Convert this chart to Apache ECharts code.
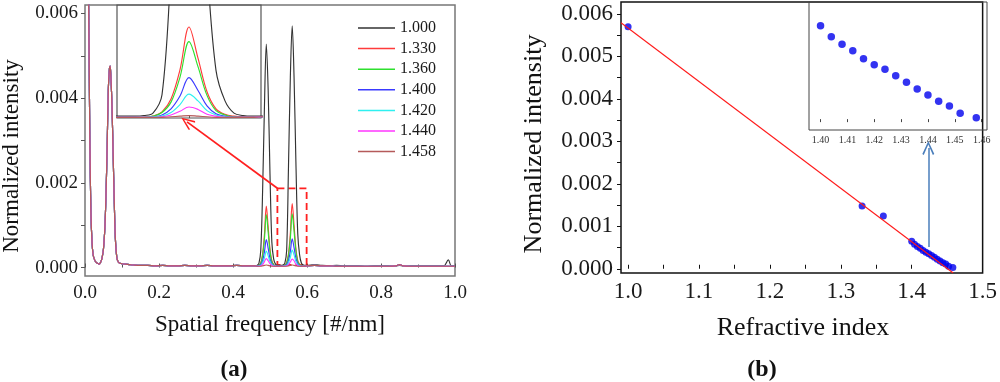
<!DOCTYPE html>
<html><head><meta charset="utf-8">
<script src="https://cdn.jsdelivr.net/npm/echarts@6/dist/echarts.min.js"></script>
<style>html,body{margin:0;padding:0;background:#fff}#c{width:1000px;height:382px}</style>
</head><body><div id="c"></div>
<script>
// ---------- Panel (a) data ----------
const seriesNames = ['1.000','1.330','1.360','1.400','1.420','1.440','1.458'];
const seriesColors = ['#333333','#ff3b3b','#2ee02e','#3a3aff','#2ef0f0','#ff36ff','#b55a5a'];

const lowFreq = [0.008,0.010,0.013,0.016,0.019,0.022,0.026,0.030,0.034,0.038,0.042,0.046,0.050,0.054,0.057,0.060,0.063,0.066,0.068,0.070,0.073,0.076,0.079,0.082,0.086,0.090,0.095,0.100,0.110,0.120,0.130,0.150,0.170,0.190,0.210,0.230,0.250,0.270,0.290,0.310,0.330,0.350,0.370,0.390,0.410,0.430,0.450,0.460];
const lowIntensity = [0.0078,0.0061,0.0031,0.0013,0.0006,0.0003,0.00018,0.00012,0.0001,0.00008,0.00012,0.00022,0.00045,0.001,0.0018,0.0029,0.0042,0.0047,0.00476,0.0045,0.0038,0.0027,0.0016,0.0007,0.00024,0.00013,0.0001,0.00009,0.00008,0.00007,0.00006,0.00005,0.00005,0.00004,0.00005,0.00004,0.00004,0.00005,0.00004,0.00004,0.00005,0.00004,0.00004,0.00004,0.00005,0.00004,0.00004,0.00004];

const peakFreq = [0.465,0.470,0.475,0.480,0.485,0.490,0.495,0.500,0.505,0.510,0.515,0.520,0.525,0.530,0.535,0.540,0.545,0.550,0.555,0.560,0.565,0.570,0.575,0.580,0.585,0.590,0.595];
const peak1000 = [0.00005,0.0001,0.0004,0.0018,0.0038,0.00528,0.0042,0.0022,0.0006,0.0002,0.00008,0.00005,0.00005,0.00005,0.00006,0.0001,0.0004,0.0024,0.0045,0.00571,0.0045,0.0025,0.0008,0.0003,0.0001,0.00006,0.00005];
const peak1330 = [0.00003,0.00005,0.00011,0.00032,0.00078,0.00145,0.00096,0.00043,0.00016,0.00007,0.00003,0.00003,0.00003,0.00003,0.00003,0.00005,0.00012,0.00033,0.00081,0.00151,0.00100,0.00045,0.00017,0.00008,0.00005,0.00004,0.00004];
const peak1360 = [0.00003,0.00005,0.0001,0.00028,0.00068,0.00125,0.00084,0.00038,0.00014,0.00007,0.00003,0.00003,0.00003,0.00003,0.00003,0.00005,0.00011,0.00028,0.00069,0.00127,0.00086,0.00039,0.00014,0.00007,0.00004,0.00003,0.00003];
const peak1400 = [0.00003,0.00004,0.00007,0.00016,0.00037,0.00066,0.00046,0.00021,0.00009,0.00005,0.00003,0.00003,0.00003,0.00003,0.00003,0.00004,0.00007,0.00017,0.00038,0.00068,0.00047,0.00022,0.00009,0.00005,0.00003,0.00003,0.00003];
const peak1420 = [0.00003,0.00004,0.00005,0.00011,0.00023,0.00039,0.00028,0.00014,0.00007,0.00004,0.00003,0.00003,0.00003,0.00003,0.00003,0.00004,0.00005,0.00011,0.00024,0.00041,0.0003,0.00014,0.00007,0.00004,0.00003,0.00003,0.00003];
const peak1440 = [0.00003,0.00003,0.00004,0.00007,0.00014,0.00021,0.00016,0.00009,0.00005,0.00003,0.00003,0.00003,0.00003,0.00003,0.00003,0.00003,0.00004,0.00007,0.00013,0.0002,0.00016,0.00008,0.00005,0.00003,0.00003,0.00003,0.00003];
const peak1458 = [0.00003,0.00003,0.00003,0.00004,0.00005,0.00006,0.00005,0.00004,0.00003,0.00003,0.00003,0.00003,0.00003,0.00003,0.00003,0.00003,0.00003,0.00004,0.00005,0.00006,0.00005,0.00004,0.00003,0.00003,0.00003,0.00003,0.00003];

const highFreq = [0.60,0.62,0.64,0.66,0.68,0.70,0.72,0.74,0.76,0.78,0.80,0.82,0.84,0.85,0.86,0.88,0.90,0.92,0.94,0.96,0.97,0.982,0.99,1.0];
const highIntensity = [0.00004,0.00005,0.00004,0.00004,0.00003,0.00003,0.00003,0.00003,0.00003,0.00003,0.00003,0.00003,0.00004,0.00007,0.00004,0.00003,0.00003,0.00003,0.00003,0.00003,0.00003,0.00003,0.00003,0.00003];
const highIntensity1000 = [0.00005,0.00007,0.00005,0.00004,0.00005,0.00004,0.00004,0.00004,0.00003,0.00004,0.00004,0.00004,0.00004,0.00005,0.00004,0.00004,0.00004,0.00004,0.00004,0.00004,0.00004,0.00018,0.00004,0.00004];

const xTicksA = [0,0.2,0.4,0.6,0.8,1.0];
const yTicksA = [0,0.002,0.004,0.006];
const yMinorTicksA = [0,0.001,0.002,0.003,0.004,0.005,0.006];

// ---------- Panel (b) data ----------
const refIndex = [1.000,1.330,1.360,1.400,1.404,1.408,1.412,1.416,1.420,1.424,1.428,1.432,1.436,1.440,1.444,1.448,1.452,1.458];
const refIntensity = [0.0057,0.00148,0.00124,0.00065,0.000576,0.000525,0.000482,0.000428,0.000387,0.000356,0.000313,0.000269,0.000223,0.000183,0.000141,0.000109,0.00006,0.00003];
const fitIndex = [0.99,1.4585];
const fitIntensity = [0.00579,-0.0001];
const xTicksB = [1.0,1.1,1.2,1.3,1.4,1.5];
const xMinorTicksB = [1.0,1.05,1.1,1.15,1.2,1.25,1.3,1.35,1.4,1.45,1.5];
const yTicksB = [0,0.001,0.002,0.003,0.004,0.005,0.006];
const yMinorTicksB = [0,0.0005,0.001,0.0015,0.002,0.0025,0.003,0.0035,0.004,0.0045,0.005,0.0055,0.006];
const xTicksInset = [1.40,1.41,1.42,1.43,1.44,1.45,1.46];

// ---------- build ----------
const peaks = [peak1000,peak1330,peak1360,peak1400,peak1420,peak1440,peak1458];
function zip(a,b){return a.map((v,i)=>[v,b[i]]);}
function curve(i){
  return zip(lowFreq,lowIntensity).concat(zip(peakFreq,peaks[i])).concat(zip(highFreq, i===0?highIntensity1000:highIntensity));
}
const FONT = 'Liberation Serif';
const chevron = 'path://M5,0 L10,12 L8.8,13 L5,3.2 L1.2,13 L0,12 Z';

const series = [];
seriesNames.forEach((n,i)=>{
  const s = {name:n, type:'line', xAxisIndex:0, yAxisIndex:0, data:curve(i), showSymbol:false, symbol:'none',
    smooth:0.35, color:seriesColors[i], lineStyle:{width:1.15, color:seriesColors[i]}, z:2+i, clip:true};
  if(i===0){
    s.markLine = {silent:true, symbol:['none', chevron], symbolSize:[11,14], label:{show:false},
      lineStyle:{color:'#ff2020', width:1.8, type:'solid'},
      data:[[{coord:[0.52,0.00187]},{coord:[0.2757,0.00344]}]]};
    s.markArea = {silent:true, itemStyle:{color:'rgba(0,0,0,0)', borderColor:'#ff2020', borderWidth:1.8, borderType:[7,4]},
      data:[[{coord:[0.52,0.00187]},{coord:[0.599,0.00006]}]]};
  }
  series.push(s);
});
seriesNames.forEach((n,i)=>{
  series.push({name:n, type:'line', xAxisIndex:1, yAxisIndex:1, data:curve(i), showSymbol:false, symbol:'none',
    smooth:0.35, color:seriesColors[i], lineStyle:{width:1.15, color:seriesColors[i]}, z:2+i, clip:true});
});
series.push({name:'data', type:'scatter', xAxisIndex:2, yAxisIndex:2, data:zip(refIndex,refIntensity),
  symbol:'circle', symbolSize:7, itemStyle:{color:'#0000ee'}, z:3,
  markLine:{silent:true, symbol:['none', chevron], symbolSize:[12,14], label:{show:false},
    lineStyle:{color:'#4a7ebb', width:1.5, type:'solid'},
    data:[[{coord:[1.4234,0.00051]},{coord:[1.4234,0.00284]}]]}});
series.push({name:'fit', type:'line', xAxisIndex:2, yAxisIndex:2, data:zip(fitIndex,fitIntensity),
  showSymbol:false, symbol:'none', lineStyle:{color:'#ff1a1a', width:1.1}, z:4, clip:true});
series.push({name:'inset', type:'scatter', xAxisIndex:3, yAxisIndex:3, data:zip(refIndex,refIntensity),
  symbol:'circle', symbolSize:7.5, itemStyle:{color:'#0000ee'}, z:3, clip:true});

const lab = (size, fmt, extra)=>Object.assign({fontFamily:FONT, fontSize:size, color:'#1a1a1a', formatter:fmt}, extra||{});

const option = {
  animation:false,
  backgroundColor:'#fff',
  grid:[
    {left:85, top:5, width:370, height:271, show:true, borderColor:'#777', borderWidth:1.5, backgroundColor:'rgba(0,0,0,0)'},
    {left:117, top:5, width:144, height:113, show:true, borderColor:'#555', borderWidth:1.2, backgroundColor:'rgba(0,0,0,0)'},
    {left:621, top:2, width:366, height:271, show:true, borderColor:'#111', borderWidth:1.5, backgroundColor:'rgba(0,0,0,0)'},
    {left:809, top:2, width:178, height:128, show:true, borderColor:'#444', borderWidth:1, backgroundColor:'rgba(0,0,0,0)'}
  ],
  xAxis:[
    {gridIndex:0, type:'value', min:0, max:1, interval:0.2, axisLine:{show:false}, splitLine:{show:false},
      axisTick:{show:true, inside:true, length:4, lineStyle:{color:'#555'}},
      minorTick:{show:true, splitNumber:2, length:3, lineStyle:{color:'#555'}},
      axisLabel:lab(19, v=>v.toFixed(1), {margin:8, customValues:xTicksA})},
    {gridIndex:1, type:'value', min:0.52, max:0.60, axisLine:{show:false}, splitLine:{show:false},
      axisTick:{show:true, inside:true, length:2, lineStyle:{color:'#555'}}, axisLabel:{show:false}},
    {gridIndex:2, type:'value', min:0.99, max:1.5, axisLine:{show:false}, splitLine:{show:false},
      axisTick:{show:true, inside:true, length:4, customValues:xMinorTicksB, lineStyle:{color:'#111'}},
      axisLabel:lab(23, v=>v.toFixed(1), {margin:7, customValues:xTicksB})},
    {gridIndex:3, type:'value', min:1.3957, max:1.462, axisLine:{show:false}, splitLine:{show:false},
      axisTick:{show:true, inside:true, length:3, customValues:xTicksInset, lineStyle:{color:'#444'}},
      axisLabel:lab(10, v=>v.toFixed(2), {margin:5, customValues:xTicksInset, color:'#333'})}
  ],
  yAxis:[
    {gridIndex:0, type:'value', min:-0.0002, max:0.0062, axisLine:{show:false}, splitLine:{show:false},
      axisTick:{show:true, inside:false, length:4, customValues:yMinorTicksA, lineStyle:{color:'#555'}},
      axisLabel:lab(19, v=>v.toFixed(3), {margin:7, customValues:yTicksA})},
    {gridIndex:1, type:'value', min:0.00002, max:0.00187, axisLine:{show:false}, splitLine:{show:false},
      axisTick:{show:false}, axisLabel:{show:false}},
    {gridIndex:2, type:'value', min:-0.0001, max:0.00628, axisLine:{show:false}, splitLine:{show:false},
      axisTick:{show:true, inside:false, length:4, customValues:yMinorTicksB, lineStyle:{color:'#111'}},
      axisLabel:lab(23, v=>v.toFixed(3), {margin:8, customValues:yTicksB})},
    {gridIndex:3, type:'value', min:-0.000053, max:0.00081, axisLine:{show:false}, splitLine:{show:false},
      axisTick:{show:false}, axisLabel:{show:false}}
  ],
  legend:{data:seriesNames, orient:'vertical', left:358, top:17.7, padding:0, icon:'rect',
    itemWidth:37, itemHeight:1.5, itemGap:0,
    textStyle:{fontFamily:FONT, fontSize:16, color:'#1a1a1a', lineHeight:20.6}, selectedMode:false},
  graphic:[
    {type:'text', x:12, y:156, rotation:Math.PI/2, style:{text:'Normalized intensity', font:'23px "Liberation Serif"', fill:'#111', align:'center', verticalAlign:'middle', textAlign:'center', textVerticalAlign:'middle'}},
    {type:'text', x:270, y:325, style:{text:'Spatial frequency [#/nm]', font:'23px "Liberation Serif"', fill:'#111', align:'center', verticalAlign:'middle', textAlign:'center', textVerticalAlign:'middle'}},
    {type:'text', x:234, y:370, style:{text:'(a)', font:'bold 23px "Liberation Serif"', fill:'#111', align:'center', verticalAlign:'middle', textAlign:'center', textVerticalAlign:'middle'}},
    {type:'text', x:534, y:144, rotation:Math.PI/2, style:{text:'Normalized intensity', font:'26px "Liberation Serif"', fill:'#111', align:'center', verticalAlign:'middle', textAlign:'center', textVerticalAlign:'middle'}},
    {type:'text', x:803, y:328, style:{text:'Refractive index', font:'26px "Liberation Serif"', fill:'#111', align:'center', verticalAlign:'middle', textAlign:'center', textVerticalAlign:'middle'}},
    {type:'text', x:762, y:370, style:{text:'(b)', font:'bold 24px "Liberation Serif"', fill:'#111', align:'center', verticalAlign:'middle', textAlign:'center', textVerticalAlign:'middle'}}
  ],
  series:series
};
const chart = echarts.init(document.getElementById('c'), null, {renderer:'canvas'});
chart.setOption(option);
</script></body></html>
